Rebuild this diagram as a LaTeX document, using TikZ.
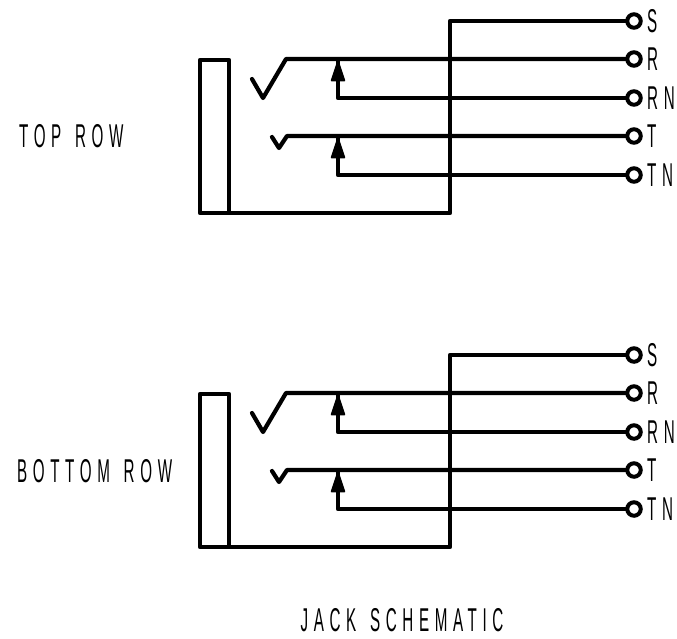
\documentclass[tikz,border=0pt]{standalone}
\usepackage{graphicx}
\usepackage{fontspec}
\setmainfont{Liberation Sans}
\newfontfamily\cadfont[LetterSpace=37]{Liberation Sans}
\newcommand{\cadtxt}[1]{\scalebox{0.46}[1]{\cadfont\fontsize{33}{33}\selectfont #1}}
\newcommand{\wordgap}{\hspace{30pt}}
\newcommand{\jackrow}[3]{%
  % #1 prefix, #2 x offset, #3 y offset
  \begin{scope}[shift={(#2,#3)}]
    \foreach \nm/\yy/\tx in {S/21/S,R/59/R,RN/98/RN,T/136/T,TN/175/TN}{
      \node[term] (#1\nm) at (634,\yy) {};
      \node[lab,anchor=west] (#1\nm l) at (647,\yy) {\cadtxt{\tx}};
    }
    \coordinate (#1a) at (200,60);
    \coordinate (#1b) at (229,60);
    \coordinate (#1c) at (200,213);
    \coordinate (#1d) at (229,213);
    \coordinate (#1e) at (450,213);
    \coordinate (#1f) at (450,21);
    \coordinate (#1g) at (252,79);
    \coordinate (#1h) at (263,98);
    \coordinate (#1i) at (286,59);
    \coordinate (#1j) at (272,137);
    \coordinate (#1k) at (279,148);
    \coordinate (#1m) at (287,136);
    \coordinate (#1n) at (338,98);
    \coordinate (#1o) at (338,60);
    \coordinate (#1p) at (338,175);
    \coordinate (#1q) at (338,137);
    \draw[wire] (#1a) -- (#1b) -- (#1d) -- (#1c) -- cycle;
    \draw[wire] (#1d) -- (#1e) -- (#1f) -- (#1S);
    \draw[wire] (#1g) -- (#1h) -- (#1i) -- (#1R);
    \draw[wire] (#1j) -- (#1k) -- (#1m) -- (#1T);
    \draw[wire] (#1RN) -- (#1n) -- (#1o);
    \draw[wire] (#1TN) -- (#1p) -- (#1q);
    \fill[draw=black,line width=1.5pt,line join=round] (#1o) ++(0,1) -- ++(6.5,19.5) -- ++(-13,0) -- cycle;
    \fill[draw=black,line width=1.5pt,line join=round] (#1q) ++(0,1) -- ++(6.5,19.5) -- ++(-13,0) -- cycle;
  \end{scope}}
\begin{document}
\begin{tikzpicture}[x=1pt,y=-1pt,
  wire/.style={line width=4.2pt,line join=round,line cap=round,draw=black},
  term/.style={circle,draw=black,line width=4pt,fill=white,minimum size=13.5pt,inner sep=0pt},
  lab/.style={inner sep=0pt,text=black}]
\useasboundingbox (0,0) rectangle (677,638);
\fill[white] (0,0) rectangle (677,638);
\jackrow{t}{0}{0}
\jackrow{b}{0}{334}
\node[lab,anchor=west] (toprow) at (19,136) {\cadtxt{TOP\wordgap ROW}};
\node[lab,anchor=west] (botrow) at (17,471) {\cadtxt{BOTTOM\wordgap ROW}};
\node[lab] (title) at (402,620) {\cadtxt{JACK\wordgap SCHEMATIC}};
\end{tikzpicture}
\end{document}
